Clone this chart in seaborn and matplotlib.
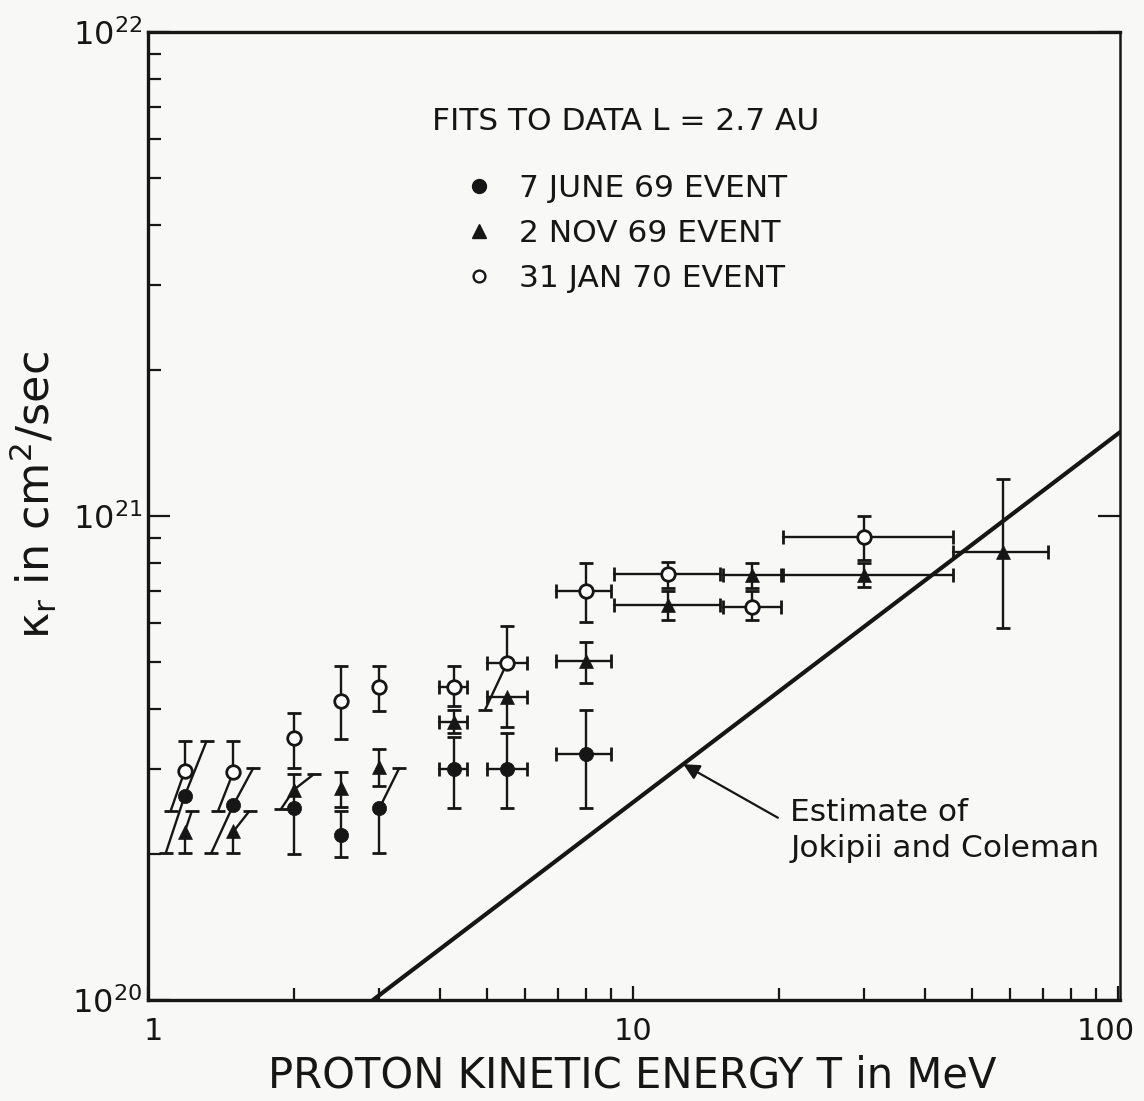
import numpy as np
import pandas as pd
import matplotlib
matplotlib.use("Agg")
import matplotlib.pyplot as plt
from matplotlib.lines import Line2D
from matplotlib.transforms import ScaledTranslation
import seaborn as sns

nan = np.nan

# Radial diffusion coefficient fits (units of 1e20 cm^2/s) versus proton energy (MeV)
# 7 June 1969 event
T_jun = [1.19, 1.50, 2.0, 2.5, 3.0, 4.27, 5.5, 8.0]
K_jun = [2.64, 2.53, 2.49, 2.19, 2.49, 3.00, 3.00, 3.22]
HI_jun = [3.43, 3.02, 2.93, 2.46, 3.02, 3.50, 3.56, 3.97]
LO_jun = [2.01, 2.01, 2.00, 1.97, 2.01, 2.49, 2.49, 2.49]
TLO_jun = [nan, nan, nan, nan, nan, 3.98, 5.0, 6.95]
THI_jun = [nan, nan, nan, nan, nan, 4.55, 6.05, 9.0]

# 2 November 1969 event
T_nov = [1.19, 1.50, 2.0, 2.5, 3.0, 4.27, 5.5, 8.0, 11.8, 17.6, 30.0, 58.0]
K_nov = [2.22, 2.23, 2.72, 2.74, 3.03, 3.75, 4.23, 5.02, 6.55, 7.55, 7.55, 8.43]
HI_nov = [2.46, 2.46, 2.93, 2.96, 3.30, 3.97, nan, 5.49, 7.0, 8.0, 8.0, 11.9]
LO_nov = [2.01, 2.01, 2.48, 2.51, 2.77, 3.56, 3.66, 4.52, 6.1, 7.1, 7.13, 5.87]
TLO_nov = [nan, nan, nan, nan, nan, 3.98, 5.0, 6.95, 9.15, 15.3, 20.4, 45.6]
THI_nov = [nan, nan, nan, nan, nan, 4.55, 6.05, 9.0, 15.1, 20.2, 45.6, 71.8]

# 31 January 1970 event
T_jan = [1.19, 1.50, 2.0, 2.5, 3.0, 4.27, 5.5, 8.0, 11.8, 17.6, 30.0]
K_jan = [2.97, 2.96, 3.48, 4.15, 4.43, 4.43, 4.97, 7.00, 7.59, 6.49, 9.05]
HI_jan = [3.43, 3.43, 3.92, 4.90, 4.90, 4.90, 5.93, 8.0, 8.03, 7.0, 10.0]
LO_jan = [2.46, 2.46, 3.02, 3.46, 3.96, 4.05, 3.97, 6.04, 7.1, 6.1, 8.1]
TLO_jan = [nan, nan, nan, nan, nan, 3.98, 5.0, 6.95, 9.15, 15.3, 20.4]
THI_jan = [nan, nan, nan, nan, nan, 4.55, 6.05, 9.0, 15.1, 20.2, 45.6]

# Sideways displacement of crowded error-bar ends (multiplicative in T)
UP_SHIFT_jun = [1.11, 1.10, 1.0, 1.0, 1.10, 1.0, 1.0, 1.0]
LO_SHIFT_jun = [0.914, 0.90, 1.0, 1.0, 1.0, 1.0, 1.0, 1.0]
UP_SHIFT_nov = [1.035, 1.08, 1.10, 1, 1, 1, 1, 1, 1, 1, 1, 1]
LO_SHIFT_nov = [1, 1, 0.94, 1, 1, 1, 1, 1, 1, 1, 1, 1]
UP_SHIFT_jan = [1] * 11
LO_SHIFT_jan = [0.936, 0.93, 1, 1, 1, 1, 0.90, 1, 1, 1, 1]

# Jokipii & Coleman estimate
T_jc = [2.91, 101.0]
K_jc = [1.0, 14.9]

EVENT_LABELS = ["7 JUNE 69 EVENT", "2 NOV 69 EVENT", "31 JAN 70 EVENT"]
LEGEND_TITLE = "FITS TO DATA L = 2.7 AU"

SCALE = 1e20
INK = "#161616"
PAPER = "#f8f8f6"

sns.set_style("ticks")
plt.rcParams["font.family"] = ["DejaVu Sans"]
plt.rcParams["mathtext.fontset"] = "dejavusans"

fig = plt.figure(figsize=(11.44, 11.01), dpi=100, facecolor=PAPER)
ax = fig.add_axes([148 / 1144, 1 - 1000 / 1101, 972 / 1144, 968 / 1101])
ax.set_facecolor(PAPER)
ax.set_xscale("log")
ax.set_yscale("log")
ax.set_xlim(1, 101)
ax.set_ylim(1e20, 1e22)


def draw_bars(T, K, HI, LO, TLO, THI, ups, los):
    for t, k, hi, lo, tl, th, fu, fl in zip(T, K, HI, LO, TLO, THI, ups, los):
        k = k * SCALE
        if not np.isnan(hi):
            ax.plot([t * fu, t], [hi * SCALE, k], color=INK, lw=1.7, zorder=2,
                    solid_capstyle="butt")
            ax.plot([t * fu], [hi * SCALE], marker="_", ms=10, mew=2.0,
                    color=INK, zorder=2)
        if not np.isnan(lo):
            ax.plot([t, t * fl], [k, lo * SCALE], color=INK, lw=1.7, zorder=2,
                    solid_capstyle="butt")
            ax.plot([t * fl], [lo * SCALE], marker="_", ms=10, mew=2.0,
                    color=INK, zorder=2)
        if not np.isnan(tl):
            ax.plot([tl, th], [k, k], color=INK, lw=1.7, zorder=2)
            ax.plot([tl, th], [k, k], ls="none", marker="|", ms=10, mew=2.0,
                    color=INK, zorder=2)


draw_bars(T_jun, K_jun, HI_jun, LO_jun, TLO_jun, THI_jun, UP_SHIFT_jun, LO_SHIFT_jun)
draw_bars(T_nov, K_nov, HI_nov, LO_nov, TLO_nov, THI_nov, UP_SHIFT_nov, LO_SHIFT_nov)
draw_bars(T_jan, K_jan, HI_jan, LO_jan, TLO_jan, THI_jan, UP_SHIFT_jan, LO_SHIFT_jan)

# Markers
sns.scatterplot(x=T_jun, y=np.array(K_jun) * SCALE, marker="o", s=105,
                color=INK, edgecolor=INK, linewidth=0.5, zorder=4, ax=ax, legend=False)
sns.scatterplot(x=T_nov, y=np.array(K_nov) * SCALE, marker="^", s=100,
                color=INK, edgecolor=INK, linewidth=0.5, zorder=4, ax=ax, legend=False)
sns.scatterplot(x=T_jan, y=np.array(K_jan) * SCALE, marker="o", s=95,
                color="white", edgecolor=INK, linewidth=2.0, zorder=4, ax=ax, legend=False)

# Jokipii & Coleman line
sns.lineplot(x=T_jc, y=np.array(K_jc) * SCALE, color=INK, lw=3.0, ax=ax, zorder=3)

ax.annotate("", xy=(12.7, 3.07e20), xytext=(19.9, 2.38e20),
            arrowprops=dict(arrowstyle="-|>", color=INK, lw=1.6,
                            mutation_scale=24, shrinkA=0, shrinkB=0))
ax.text(21.1, 2.62e20, "Estimate of\nJokipii and Coleman", fontsize=22.5,
        color=INK, va="top", ha="left", linespacing=1.33)

# Legend
handles = [
    Line2D([], [], ls="none", marker="o", ms=10, color=INK),
    Line2D([], [], ls="none", marker="^", ms=10, color=INK),
    Line2D([], [], ls="none", marker="o", ms=8.5, mfc="white", mec=INK, mew=1.7),
]
leg = ax.legend(handles, EVENT_LABELS, title=LEGEND_TITLE, loc="upper left",
                bbox_to_anchor=(0.279, 0.935), frameon=False, fontsize=22.5,
                title_fontsize=22.5, handlelength=1.0, handletextpad=0.8,
                labelspacing=0.52, borderaxespad=0)
leg._legend_box.sep = 27
for txt in leg.get_texts():
    txt.set_color(INK)
leg.get_title().set_color(INK)

# Axes frame and ticks
for side in ["top", "left", "bottom"]:
    ax.spines[side].set_linewidth(2.4)
ax.spines["right"].set_linewidth(1.8)
for sp in ax.spines.values():
    sp.set_color(INK)

ax.set_xticks([1, 10, 100])
ax.set_xticklabels(["1", "10", "100"])
ax.set_yticks([1e20, 1e21, 1e22])
ax.set_yticklabels([r"$10^{20}$", r"$10^{21}$", r"$10^{22}$"])
ax.tick_params(axis="x", which="major", direction="in", length=10, width=1.6,
               top=False, labelsize=22, pad=12, colors=INK)
ax.tick_params(axis="x", which="minor", direction="in", length=9, width=1.6,
               top=False, colors=INK)
ax.tick_params(axis="y", which="major", direction="in", length=16, width=1.6,
               left=True, right=True, labelsize=23, pad=4, colors=INK)
ax.tick_params(axis="y", which="minor", direction="in", length=9, width=1.6,
               left=True, right=False, colors=INK)
ax.set_xlabel("")
ax.set_ylabel("")

# Nudge the outer x tick labels so they sit inside the figure
xlabels = ax.get_xticklabels()
xlabels[0].set_transform(xlabels[0].get_transform()
                         + ScaledTranslation(5 / 100, 0, fig.dpi_scale_trans))
xlabels[-1].set_transform(xlabels[-1].get_transform()
                          + ScaledTranslation(-12 / 100, 0, fig.dpi_scale_trans))

fig.text(632 / 1144, 1 - 1075 / 1101, "PROTON KINETIC ENERGY T in MeV",
         fontsize=30, color=INK, ha="center", va="center")
fig.text(33 / 1144, 1 - 495 / 1101, r"$\mathregular{\kappa_r}$ in cm$^2$/sec",
         fontsize=32, color=INK, ha="center", va="center", rotation=90)

fig.savefig("out.png", dpi=100, facecolor=PAPER)
